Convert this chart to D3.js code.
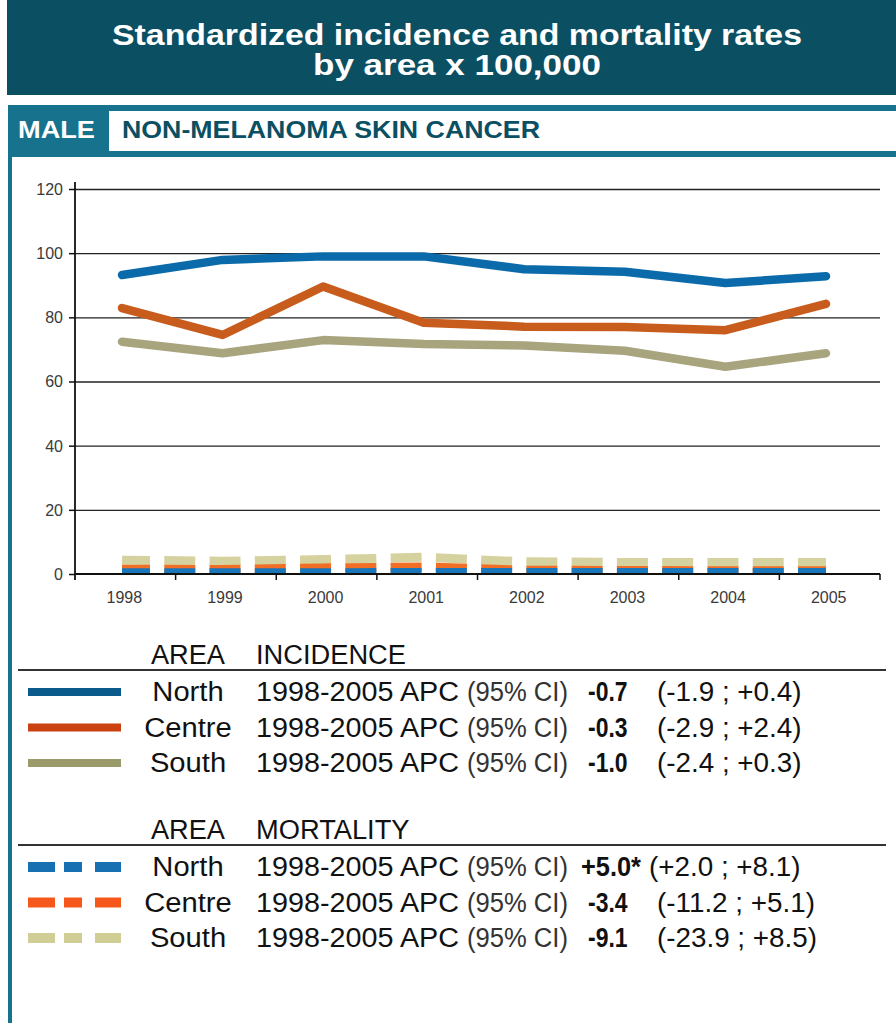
<!DOCTYPE html>
<html>
<head>
<meta charset="utf-8">
<script src="https://cdn.jsdelivr.net/npm/d3@7"></script>
<style>
  html, body { margin: 0; padding: 0; background: #fff; }
  svg { display: block; font-family: "Liberation Sans", Arial, sans-serif; }
</style>
</head>
<body>
<svg id="chart" width="896" height="1023"></svg>
<script>
// ---------------- DATA ----------------
const years = [1998, 1999, 2000, 2001, 2002, 2003, 2004, 2005];
const areas = ["North", "Centre", "South"];

const incidenceNorth  = [93.2, 97.9, 99.0, 99.0, 95.0, 94.2, 90.7, 92.8];
const incidenceCentre = [82.9, 74.5, 89.6, 78.3, 77.1, 77.0, 76.0, 84.2];
const incidenceSouth  = [72.4, 68.8, 72.9, 71.7, 71.2, 69.6, 64.6, 68.8];

const mortalityNorth  = [0.4, 0.4, 0.4, 0.5, 0.5, 0.5, 0.5, 0.5];
const mortalityCentre = [1.5, 1.4, 1.9, 2.2, 1.2, 1.1, 1.0, 1.0];
const mortalitySouth  = [4.3, 4.0, 4.5, 5.2, 3.8, 3.6, 3.6, 3.6];

const yTicks = [0, 20, 40, 60, 80, 100, 120];

const titleLines = ["Standardized incidence and mortality rates", "by area x 100,000"];
const sexLabel = "MALE";
const cancerLabel = "NON-MELANOMA SKIN CANCER";

const periodLabel = "1998-2005 APC";
const ciLabel = "(95% CI)";
const incidenceAPC = ["-0.7", "-0.3", "-1.0"];
const incidenceCI  = ["(-1.9 ; +0.4)", "(-2.9 ; +2.4)", "(-2.4 ; +0.3)"];
const mortalityAPC = ["+5.0*", "-3.4", "-9.1"];
const mortalityCI  = ["(+2.0 ; +8.1)", "(-11.2 ; +5.1)", "(-23.9 ; +8.5)"];

// ---------------- STYLE ----------------
const incColors     = ["#0b6aaa", "#c85c1c", "#a7a47e"];
const incLegColors  = ["#0b5a8c", "#c9420f", "#9b9a6b"];
const morColors     = ["#1a76ba", "#f06e25", "#d6d29f"];
const morLegColors  = ["#1670b2", "#f5581a", "#d0cd95"];
const darkTeal = "#0b4f63";
const teal = "#17728e";

const svg = d3.select("#chart");

// stretch a text selection horizontally to a factor of its natural width
function stretch(sel, factor) {
  sel.each(function () {
    const w = this.getComputedTextLength();
    d3.select(this).attr("textLength", w * factor).attr("lengthAdjust", "spacingAndGlyphs");
  });
  return sel;
}
function fitTo(sel, width) {
  sel.attr("textLength", width).attr("lengthAdjust", "spacingAndGlyphs");
  return sel;
}

// ---------------- HEADER ----------------
svg.append("rect").attr("x", 7).attr("y", 0).attr("width", 889).attr("height", 95).attr("fill", darkTeal);
const titleWidths = [690, 288];
svg.selectAll("text.title").data(titleLines).join("text")
  .attr("class", "title")
  .attr("x", 457).attr("y", (d, i) => 45 + i * 30)
  .attr("text-anchor", "middle")
  .attr("fill", "#fff").attr("font-weight", "bold").attr("font-size", 29)
  .attr("textLength", (d, i) => titleWidths[i]).attr("lengthAdjust", "spacingAndGlyphs")
  .text(d => d);

// panel frame
svg.append("rect").attr("x", 8).attr("y", 105).attr("width", 888).attr("height", 52).attr("fill", teal);
svg.append("rect").attr("x", 109).attr("y", 111).attr("width", 787).attr("height", 40).attr("fill", "#fff");
svg.append("rect").attr("x", 8).attr("y", 105).attr("width", 4).attr("height", 918).attr("fill", teal);

fitTo(svg.append("text").attr("x", 18).attr("y", 138).attr("fill", "#fff")
  .attr("font-weight", "bold").attr("font-size", 23).text(sexLabel), 77);
fitTo(svg.append("text").attr("x", 122).attr("y", 138).attr("fill", darkTeal)
  .attr("font-weight", "bold").attr("font-size", 23).text(cancerLabel), 418);

// ---------------- CHART ----------------
const x0 = 75, x1 = 880, yTop = 189, yBot = 574;
const y = d3.scaleLinear().domain([0, 120]).range([yBot, yTop]);
const band = d3.scaleBand().domain(years).range([x0, x1]);
const xp = d3.scalePoint().domain(years).range([122, 826]);

// gridlines
svg.append("g").attr("transform", `translate(${x0},0)`)
  .call(d3.axisLeft(y).tickValues(yTicks.filter(t => t > 0)).tickSize(-(x1 - x0)).tickFormat(""))
  .call(g => g.select(".domain").remove())
  .call(g => g.selectAll("line").attr("stroke", "#222").attr("stroke-width", 1.3));

// clip for plot
svg.append("clipPath").attr("id", "plotclip")
  .append("rect").attr("x", x0).attr("y", 170).attr("width", x1 - x0).attr("height", yBot - 170);

const plot = svg.append("g").attr("clip-path", "url(#plotclip)");
const line = d3.line().x((d, i) => xp(years[i])).y(d => y(d));

const incSeries = [incidenceNorth, incidenceCentre, incidenceSouth];
const morSeries = [mortalityNorth, mortalityCentre, mortalitySouth];

// incidence lines
[2, 1, 0].forEach(i => {
  plot.append("path").attr("d", line(incSeries[i]))
    .attr("fill", "none").attr("stroke", incColors[i])
    .attr("stroke-width", 8.5).attr("stroke-linejoin", "round").attr("stroke-linecap", "round");
});

// mortality dashed lines (16 dashes along the span)
[2, 1, 0].forEach(i => {
  const p = plot.append("path").attr("d", line(morSeries[i]))
    .attr("fill", "none").attr("stroke", morColors[i])
    .attr("stroke-width", 9).attr("stroke-linejoin", "round").attr("stroke-linecap", "butt");
  const L = p.node().getTotalLength() + 6;
  const dash = 31, n = 16;
  const gap = (L - n * dash) / (n - 1);
  p.attr("stroke-dasharray", `${dash} ${gap}`).attr("stroke-dashoffset", 3);
});

// y axis
const yAxis = svg.append("g").attr("transform", `translate(${x0},0)`)
  .call(d3.axisLeft(y).tickValues(yTicks).tickSize(6).tickPadding(6))
  .call(g => g.select(".domain").remove());
yAxis.selectAll("line").attr("stroke", "#111").attr("stroke-width", 1.5);
yAxis.selectAll("text").attr("font-size", 16).attr("fill", "#3a3a3a")
  .attr("font-family", "Liberation Sans, Arial, sans-serif").attr("dy", "0.34em");
svg.append("line").attr("x1", x0).attr("x2", x0).attr("y1", 182).attr("y2", 580)
  .attr("stroke", "#111").attr("stroke-width", 1.8);

// x axis
svg.append("line").attr("x1", x0).attr("x2", x1).attr("y1", yBot).attr("y2", yBot)
  .attr("stroke", "#111").attr("stroke-width", 1.8);
const edges = years.map(yy => band(yy)).slice(1).concat([x1]);
svg.selectAll("line.xt").data(edges).join("line").attr("class", "xt")
  .attr("x1", d => d).attr("x2", d => d).attr("y1", yBot).attr("y2", yBot + 6)
  .attr("stroke", "#111").attr("stroke-width", 1.5);
svg.selectAll("text.xl").data(years).join("text").attr("class", "xl")
  .attr("x", d => band(d) + band.bandwidth() / 2 - 1).attr("y", 603)
  .attr("text-anchor", "middle").attr("font-size", 16).attr("fill", "#3a3a3a")
  .text(d => d);

// ---------------- LEGENDS ----------------
function legendBlock(top, headerWord, apc, ci, colors, dashed) {
  const g = svg.append("g");
  fitTo(g.append("text").attr("x", 151).attr("y", top).attr("font-size", 27).attr("fill", "#111").text("AREA"), 74);
  stretch(g.append("text").attr("x", 256).attr("y", top).attr("font-size", 27).attr("fill", "#111").text(headerWord), 1.01);
  g.append("line").attr("x1", 18).attr("x2", 886).attr("y1", top + 6).attr("y2", top + 6)
    .attr("stroke", "#333").attr("stroke-width", 2.2);
  areas.forEach((a, i) => {
    const by = top + 37 + i * 35.5;
    const sw = g.append("line").attr("x1", 28).attr("x2", 121).attr("y1", by - 9).attr("y2", by - 9)
      .attr("stroke", colors[i]).attr("stroke-width", dashed ? 10 : 8);
    if (dashed) sw.attr("stroke-dasharray", "27 9 18 13 26");
    stretch(g.append("text").attr("x", 188).attr("y", by).attr("text-anchor", "middle")
      .attr("font-size", 27).attr("fill", "#111").text(a), 1.08);
    fitTo(g.append("text").attr("x", 256).attr("y", by).attr("font-size", 27).attr("fill", "#111").text(periodLabel), 203);
    fitTo(g.append("text").attr("x", 467).attr("y", by).attr("font-size", 27).attr("fill", "#333").text(ciLabel), 101);
    stretch(g.append("text").attr("x", apc[i].startsWith("+") ? 581 : 588).attr("y", by)
      .attr("font-size", 27).attr("font-weight", "bold").attr("fill", "#111").text(apc[i]), apc[i].startsWith("+") ? 0.94 : 0.85);
    stretch(g.append("text").attr("x", apc[i].startsWith("+") ? 649 : 657).attr("y", by)
      .attr("font-size", 27).attr("fill", "#111").text(ci[i]), 1.03);
  });
}
legendBlock(664, "INCIDENCE", incidenceAPC, incidenceCI, incLegColors, false);
legendBlock(839, "MORTALITY", mortalityAPC, mortalityCI, morLegColors, true);
</script>
</body>
</html>
